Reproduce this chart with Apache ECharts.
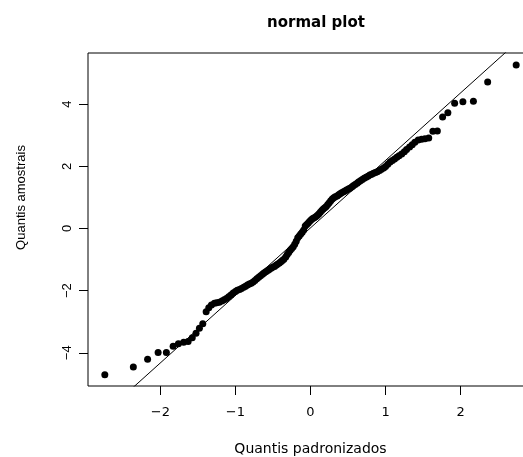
<!DOCTYPE html>
<html lang="pt">
<head>
  <meta charset="UTF-8">
  <title>normal plot</title>
  <style>html, body { margin: 0; padding: 0; background: #fff; }</style>
</head>
<body>
  <div id="main" style="width: 523px;height: 457px;"></div>
<script src="https://cdn.jsdelivr.net/npm/echarts@6/dist/echarts.min.js"></script>
<script>
  // quantis teoricos (x) e amostrais (y)
  var quantisTeoricos = [
    -2.74, -2.36, -2.17, -2.03, -1.92, -1.83, -1.76, -1.69, -1.63, -1.575,
    -1.525, -1.48, -1.435, -1.39, -1.355, -1.32, -1.28, -1.25, -1.215, -1.18,
    -1.15, -1.12, -1.09, -1.06, -1.03, -1.00, -0.975, -0.945, -0.92, -0.89,
    -0.865, -0.84, -0.815, -0.79, -0.765, -0.74, -0.715, -0.69, -0.665, -0.64,
    -0.62, -0.595, -0.57, -0.55, -0.525, -0.505, -0.48, -0.46, -0.44, -0.415,
    -0.395, -0.375, -0.355, -0.33, -0.31, -0.29, -0.27, -0.25, -0.23, -0.21,
    -0.19, -0.17, -0.15, -0.13, -0.11, -0.09, -0.07, -0.05, -0.03, -0.01,
    0.01, 0.03, 0.05, 0.07, 0.09, 0.11, 0.13, 0.15, 0.17, 0.19,
    0.21, 0.23, 0.25, 0.27, 0.29, 0.31, 0.33, 0.355, 0.375, 0.395,
    0.415, 0.44, 0.46, 0.48, 0.505, 0.525, 0.55, 0.57, 0.595, 0.62,
    0.64, 0.665, 0.69, 0.715, 0.74, 0.765, 0.79, 0.815, 0.84, 0.865,
    0.89, 0.92, 0.945, 0.975, 1.00, 1.03, 1.06, 1.09, 1.12, 1.15,
    1.18, 1.215, 1.25, 1.28, 1.32, 1.355, 1.39, 1.435, 1.48, 1.525,
    1.575, 1.63, 1.69, 1.76, 1.83, 1.92, 2.03, 2.17, 2.36, 2.74
  ];
  var quantisAmostrais = [
    -4.71, -4.46, -4.21, -3.99, -3.99, -3.79, -3.71, -3.66, -3.64, -3.52,
    -3.37, -3.21, -3.07, -2.68, -2.55, -2.46, -2.41, -2.39, -2.37, -2.33,
    -2.29, -2.25, -2.20, -2.14, -2.08, -2.03, -1.99, -1.96, -1.93, -1.89,
    -1.86, -1.82, -1.79, -1.76, -1.72, -1.67, -1.62, -1.57, -1.52, -1.47,
    -1.43, -1.39, -1.35, -1.32, -1.28, -1.25, -1.22, -1.18, -1.15, -1.11,
    -1.07, -1.03, -0.99, -0.92, -0.84, -0.77, -0.70, -0.64, -0.59, -0.51,
    -0.41, -0.30, -0.24, -0.18, -0.12, -0.05, 0.08, 0.13, 0.18, 0.23,
    0.28, 0.32, 0.35, 0.38, 0.42, 0.47, 0.52, 0.58, 0.63, 0.67,
    0.71, 0.77, 0.83, 0.89, 0.95, 0.99, 1.02, 1.05, 1.09, 1.12,
    1.15, 1.18, 1.21, 1.24, 1.27, 1.30, 1.34, 1.38, 1.42, 1.46,
    1.50, 1.54, 1.58, 1.62, 1.65, 1.68, 1.72, 1.75, 1.78, 1.80,
    1.83, 1.87, 1.91, 1.95, 2.00, 2.07, 2.14, 2.19, 2.24, 2.29,
    2.34, 2.40, 2.47, 2.54, 2.62, 2.70, 2.78, 2.85, 2.87, 2.89,
    2.91, 3.13, 3.14, 3.59, 3.73, 4.03, 4.08, 4.10, 4.72, 5.26
  ];
  // extremos da reta de referencia (qqline)
  var retaX = [-3.0, 3.0];
  var retaY = [-6.50, 6.54];
  // marcas dos eixos
  var xTicks = [-2, -1, 0, 1, 2];
  var yTicks = [-4, -2, 0, 2, 4];

  var fonte = 'DejaVu Sans';
  var fonteY = 'Liberation Sans';

  function menos(v) {
    return String(v).replace('-', '\u2212');
  }

  var pontos = [];
  for (var i = 0; i < quantisTeoricos.length; i++) {
    pontos.push([quantisTeoricos[i], quantisAmostrais[i]]);
  }
  var reta = [];
  for (var j = 0; j < retaX.length; j++) {
    reta.push([retaX[j], retaY[j]]);
  }

  var chartDom = document.getElementById('main');
  var myChart = echarts.init(chartDom);
  var option;

  option = {
    animation: false,
    backgroundColor: '#fff',
    title: {
      text: 'normal plot',
      left: 311,
      top: 11,
      textAlign: 'center',
      textStyle: { fontFamily: fonte, fontWeight: 'bold', fontSize: 15, color: '#000' }
    },
    grid: {
      left: 88,
      right: -10,
      top: 53,
      bottom: 71,
      outerBoundsMode: 'none',
      containLabel: false,
      show: true,
      borderColor: '#000',
      borderWidth: 1
    },
    xAxis: {
      type: 'value',
      min: -2.964,
      max: 2.964,
      axisLine: { show: false, onZero: false },
      splitLine: { show: false },
      axisTick: { show: true, length: 9, customValues: xTicks, lineStyle: { color: '#000' } },
      axisLabel: {
        customValues: xTicks,
        margin: 20,
        formatter: menos,
        color: '#000',
        fontFamily: fonte,
        fontSize: 13
      },
      name: 'Quantis padronizados',
      nameLocation: 'middle',
      nameGap: 56,
      nameTextStyle: { fontFamily: fonte, fontSize: 14, color: '#000' }
    },
    yAxis: {
      type: 'value',
      min: -5.07,
      max: 5.65,
      axisLine: { show: false, onZero: false },
      splitLine: { show: false },
      axisTick: { show: true, length: 9, customValues: yTicks, lineStyle: { color: '#000' } },
      axisLabel: {
        customValues: yTicks,
        margin: 14,
        rotate: 90,
        formatter: menos,
        color: '#000',
        fontFamily: fonteY,
        fontSize: 13
      },
      name: 'Quantis amostrais',
      nameLocation: 'middle',
      nameGap: 60,
      nameRotate: 90,
      nameTextStyle: { fontFamily: fonteY, fontSize: 13, color: '#000', padding: [0, 0, 0, 44] }
    },
    series: [
      {
        type: 'scatter',
        data: pontos,
        symbol: 'circle',
        symbolSize: 7,
        itemStyle: { color: '#000', opacity: 1 },
        silent: true
      },
      {
        type: 'line',
        data: reta,
        symbol: 'none',
        clip: true,
        lineStyle: { color: '#000', width: 1 },
        silent: true
      }
    ]
  };

  option && myChart.setOption(option);
</script>
</body>
</html>
